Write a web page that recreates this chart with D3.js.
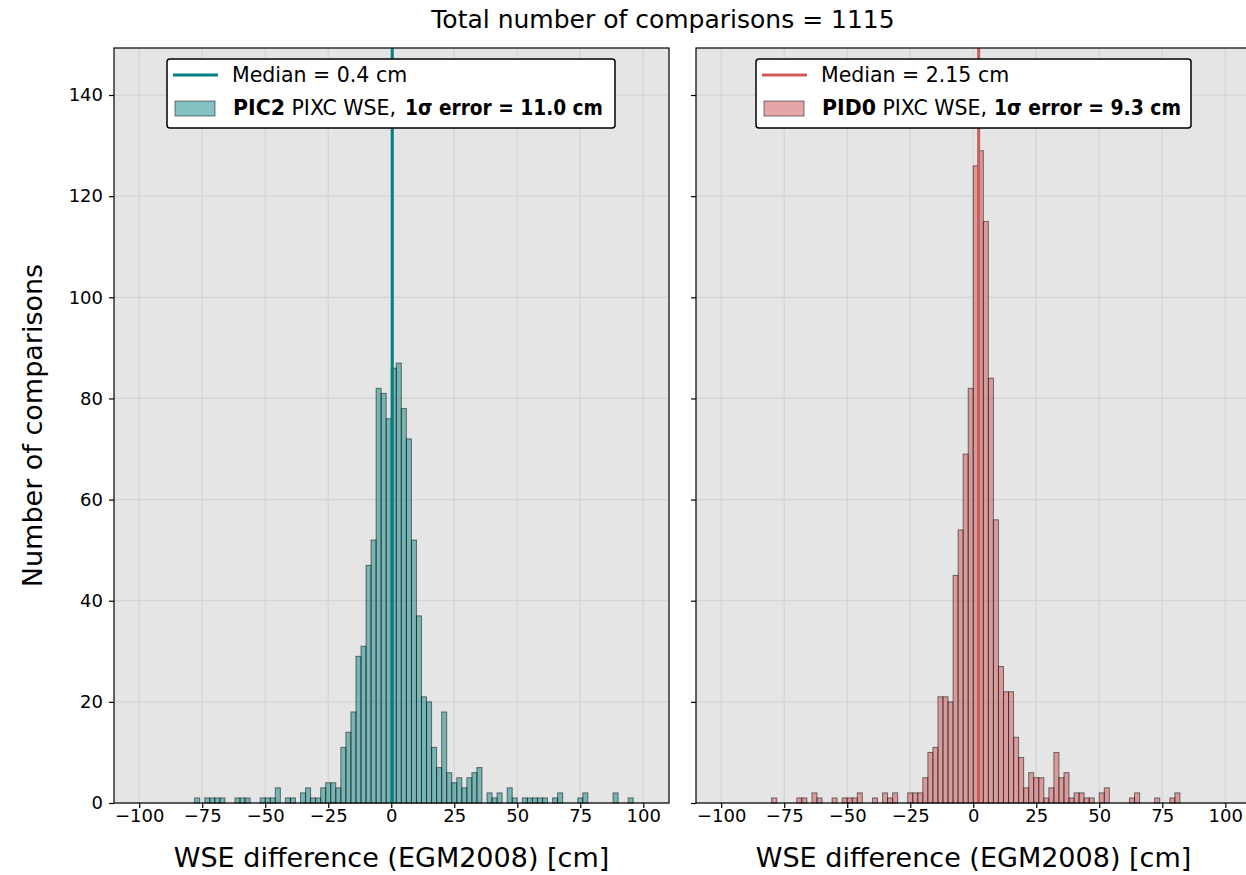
<!DOCTYPE html>
<html>
<head>
<meta charset="utf-8">
<script src="https://cdn.jsdelivr.net/npm/d3@7"></script>
<style>
  body { margin: 0; background: #fff; }
  text { font-family: "DejaVu Sans", sans-serif; fill: #000; }
</style>
</head>
<body>
<svg id="chart" width="1246" height="875"></svg>
<script>
// histogram bins are 2 cm wide, listed by their left edge (cm)
var binWidth = 2;

var pic2Bins = [-78,-74,-72,-70,-68,-62,-60,-58,-52,-50,-48,-46,-42,-40,-36,-34,-32,-30,-28,-26,-24,-22,
  -20,-18,-16,-14,-12,-10,-8,-6,-4,-2,0,2,4,6,8,10,12,14,16,18,20,22,24,26,28,30,32,34,
  38,40,42,46,48,52,54,56,58,60,64,66,74,76,88,94];
var pic2Counts = [1,1,1,1,1,1,1,1,1,1,1,3,1,1,2,3,1,1,3,4,4,3,
  11,14,18,29,31,47,52,82,81,76,86,87,78,72,52,37,21,20,11,7,18,6,4,5,3,5,6,7,
  2,1,2,3,1,1,1,1,1,1,1,2,1,2,2,1];

var pid0Bins = [-80,-70,-68,-64,-62,-56,-52,-50,-48,-46,-40,-36,-34,-32,-26,-24,-22,
  -20,-18,-16,-14,-12,-10,-8,-6,-4,-2,0,2,4,6,8,10,12,14,16,18,20,22,24,26,28,30,32,34,36,
  38,40,42,44,46,50,52,62,64,72,78,80];
var pid0Counts = [1,1,1,2,1,1,1,1,1,2,1,2,1,2,2,2,2,
  5,10,11,21,21,20,45,54,69,82,126,129,115,84,56,27,22,22,13,9,3,6,5,5,1,3,10,5,6,
  1,2,2,1,1,2,3,1,2,1,1,2];

var xTicks = [-100, -75, -50, -25, 0, 25, 50, 75, 100];
var yTicks = [0, 20, 40, 60, 80, 100, 120, 140];
var medians = [0.4, 2.15];
var productNames = ["PIC2", "PID0"];
var sigmaErrors = ["11.0", "9.3"];
var titleText = "Total number of comparisons = 1115";

var svg = d3.select("#chart");

var marginTop = 48, plotH = 755, plotW = 555;
var panelLefts = [114, 696];

var x = d3.scaleLinear().domain([-110, 110.2]).range([0, plotW]);
var y = d3.scaleLinear().domain([0, 149.3]).range([plotH, 0]);

var panels = [
  { bins: pic2Bins, counts: pic2Counts, median: medians[0], name: productNames[0],
    sigma: sigmaErrors[0], color: "#008080", fillOpacity: 0.48, showY: true,
    legX: 53, legW: 448, mathX: 238, mathW: 198 },
  { bins: pid0Bins, counts: pid0Counts, median: medians[1], name: productNames[1],
    sigma: sigmaErrors[1], color: "#cd5c5c", fillOpacity: 0.55, showY: false,
    legX: 60, legW: 435, mathX: 238, mathW: 187 }
];

svg.append("text")
  .attr("x", 663).attr("y", 28)
  .attr("text-anchor", "middle")
  .style("font-size", "25px")
  .text(titleText);

panels.forEach(function(p, i) {
  var g = svg.append("g").attr("transform", "translate(" + panelLefts[i] + "," + marginTop + ")");

  g.append("rect").attr("width", plotW).attr("height", plotH).attr("fill", "#e5e5e5");

  // grid
  g.append("g").selectAll("line").data(xTicks).join("line")
    .attr("x1", d => x(d)).attr("x2", d => x(d))
    .attr("y1", 0).attr("y2", plotH)
    .attr("stroke", "#d4d4d4").attr("stroke-width", 1.2);
  g.append("g").selectAll("line").data(yTicks).join("line")
    .attr("x1", 0).attr("x2", plotW)
    .attr("y1", d => y(d)).attr("y2", d => y(d))
    .attr("stroke", "#d4d4d4").attr("stroke-width", 1.2);

  // bars
  var data = p.bins.map(function(b, k) { return { x0: b, n: p.counts[k] }; });
  g.append("g").selectAll("rect").data(data).join("rect")
    .attr("x", d => x(d.x0))
    .attr("width", d => x(d.x0 + binWidth) - x(d.x0))
    .attr("y", d => y(d.n))
    .attr("height", d => y(0) - y(d.n))
    .attr("fill", p.color).attr("fill-opacity", p.fillOpacity)
    .attr("stroke", "#000").attr("stroke-opacity", 0.5).attr("stroke-width", 1);

  // median line
  g.append("line")
    .attr("x1", x(p.median)).attr("x2", x(p.median))
    .attr("y1", 0).attr("y2", plotH)
    .attr("stroke", p.color).attr("stroke-width", 3);

  // axes
  var xAxis = g.append("g").attr("transform", "translate(0," + plotH + ")")
    .call(d3.axisBottom(x).tickValues(xTicks).tickSize(5).tickPadding(14)
      .tickFormat(d => d < 0 ? "\u2212" + Math.abs(d) : d));
  var yAxis = g.append("g")
    .call(d3.axisLeft(y).tickValues(yTicks).tickSize(5).tickPadding(6)
      .tickFormat(p.showY ? d3.format("d") : ""));
  [xAxis, yAxis].forEach(function(a) {
    a.select(".domain").remove();
    a.selectAll("line").attr("stroke", "#000").attr("stroke-width", 1.2);
    a.selectAll("text").style("font-size", "18px").attr("font-family", "DejaVu Sans").attr("fill", "#000");
  });
  xAxis.selectAll("text").attr("dy", "0");

  // frame
  g.append("rect").attr("width", plotW).attr("height", plotH)
    .attr("fill", "none").attr("stroke", "#000").attr("stroke-width", 1.2);

  // x label
  g.append("text")
    .attr("x", plotW / 2).attr("y", plotH + 64)
    .attr("text-anchor", "middle")
    .style("font-size", "27px")
    .text("WSE difference (EGM2008) [cm]");

  // legend
  var lg = g.append("g").attr("transform", "translate(" + p.legX + ",11)");
  lg.append("rect").attr("width", p.legW).attr("height", 69).attr("rx", 3)
    .attr("fill", "#fff").attr("stroke", "#000").attr("stroke-width", 1.5);
  lg.append("line").attr("x1", 6).attr("x2", 51).attr("y1", 16).attr("y2", 16)
    .attr("stroke", p.color).attr("stroke-width", 3);
  lg.append("text").attr("x", 65).attr("y", 23).style("font-size", "20.5px")
    .text("Median = " + p.median + " cm");
  lg.append("rect").attr("x", 8).attr("y", 42).attr("width", 40).attr("height", 15)
    .attr("fill", p.color).attr("fill-opacity", p.fillOpacity)
    .attr("stroke", "#000").attr("stroke-opacity", 0.5);
  var t = lg.append("text").attr("x", 66).attr("y", 56).style("font-size", "20.5px");
  t.append("tspan").attr("font-weight", "bold").text(p.name);
  t.append("tspan").text(" PIXC WSE,");
  lg.append("text").attr("x", p.mathX).attr("y", 56).style("font-size", "20.5px")
    .attr("font-weight", "bold")
    .attr("textLength", p.mathW).attr("lengthAdjust", "spacingAndGlyphs")
    .text("1\u03c3 error = " + p.sigma + " cm");
});

svg.append("text")
  .attr("transform", "translate(42," + (marginTop + plotH / 2) + ") rotate(-90)")
  .attr("text-anchor", "middle")
  .style("font-size", "27px")
  .text("Number of comparisons");
</script>
</body>
</html>
